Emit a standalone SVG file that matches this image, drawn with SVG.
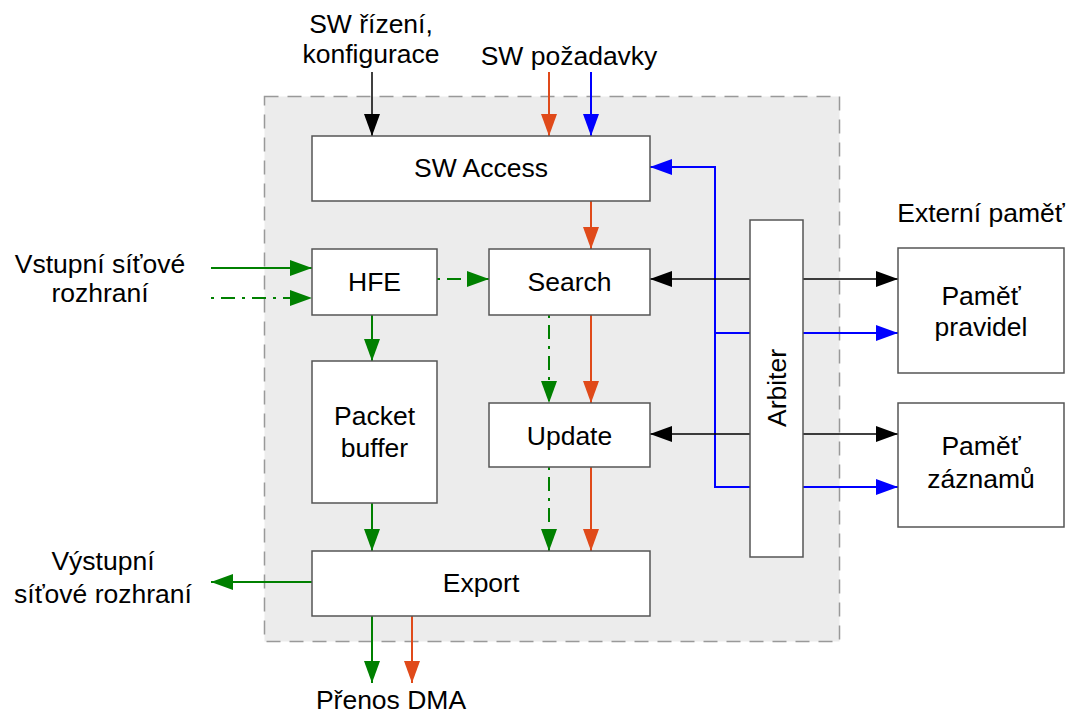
<svg xmlns="http://www.w3.org/2000/svg" width="1074" height="716" viewBox="0 0 1074 716">
<style>
text{font-family:"Liberation Sans",Arial,sans-serif;font-size:26.5px;fill:#000;text-anchor:middle}
.box{fill:#fff;stroke:#555;stroke-width:1.5}
.k{stroke:#000;stroke-width:1.5;fill:none}
.g{stroke:#008000;stroke-width:2;fill:none}
.o{stroke:#e04a1a;stroke-width:2;fill:none}
.b{stroke:#0000ff;stroke-width:2;fill:none}
.dd{stroke-dasharray:3 7 14 7}
</style>
<defs>
<marker id="ak" markerUnits="userSpaceOnUse" markerWidth="22" markerHeight="16" refX="22" refY="8" orient="auto-start-reverse"><path d="M0,0 L22,8 L0,16 z" fill="#000"/></marker>
<marker id="ag" markerUnits="userSpaceOnUse" markerWidth="22" markerHeight="16" refX="22" refY="8" orient="auto"><path d="M0,0 L22,8 L0,16 z" fill="#008000"/></marker>
<marker id="ao" markerUnits="userSpaceOnUse" markerWidth="22" markerHeight="16" refX="22" refY="8" orient="auto"><path d="M0,0 L22,8 L0,16 z" fill="#e04a1a"/></marker>
<marker id="ab" markerUnits="userSpaceOnUse" markerWidth="22" markerHeight="16" refX="22" refY="8" orient="auto"><path d="M0,0 L22,8 L0,16 z" fill="#0000ff"/></marker>
</defs>
<rect x="0" y="0" width="1074" height="716" fill="#fff"/>
<rect id="fpga" x="264.5" y="96.5" width="575" height="545" fill="#ececec" stroke="#999" stroke-width="1.5" stroke-dasharray="14 9"/>

<g id="labels">
<text x="371" y="33">SW řízení,</text>
<text x="371" y="63">konfigurace</text>
<text x="569" y="65">SW požadavky</text>
<text x="100" y="273">Vstupní síťové</text>
<text x="100" y="302">rozhraní</text>
<text x="103" y="570">Výstupní</text>
<text x="103" y="603">síťové rozhraní</text>
<text x="391" y="709">Přenos DMA</text>
<text x="981" y="222">Externí paměť</text>
</g>

<g id="connectors">
<line class="k" x1="372" y1="72" x2="372" y2="136" marker-end="url(#ak)"/>
<line class="o" x1="549" y1="72" x2="549" y2="136" marker-end="url(#ao)"/>
<line class="b" x1="591" y1="72" x2="591" y2="136" marker-end="url(#ab)"/>
<line class="o" x1="591" y1="201" x2="591" y2="249" marker-end="url(#ao)"/>
<line class="g" x1="211" y1="268" x2="312" y2="268" marker-end="url(#ag)"/>
<line class="g dd" x1="211" y1="298" x2="312" y2="298" marker-end="url(#ag)"/>
<line class="g dd" x1="437" y1="279" x2="489" y2="279" marker-end="url(#ag)"/>
<line class="g" x1="372" y1="315" x2="372" y2="361" marker-end="url(#ag)"/>
<line class="g dd" x1="549" y1="315" x2="549" y2="403" marker-end="url(#ag)"/>
<line class="o" x1="591" y1="315" x2="591" y2="403" marker-end="url(#ao)"/>
<line class="g dd" x1="549" y1="467" x2="549" y2="551" marker-end="url(#ag)"/>
<line class="o" x1="591" y1="467" x2="591" y2="551" marker-end="url(#ao)"/>
<line class="g" x1="372" y1="503" x2="372" y2="551" marker-end="url(#ag)"/>
<line class="g" x1="312" y1="582" x2="211" y2="582" marker-end="url(#ag)"/>
<line class="g" x1="372" y1="616" x2="372" y2="683" marker-end="url(#ag)"/>
<line class="o" x1="412" y1="616" x2="412" y2="683" marker-end="url(#ao)"/>
<polyline class="b" points="750,487 715,487 715,167 650,167" marker-end="url(#ab)"/>
<line class="b" x1="715" y1="333" x2="750" y2="333"/>
<line class="b" x1="803" y1="333" x2="898" y2="333" marker-end="url(#ab)"/>
<line class="b" x1="803" y1="487" x2="898" y2="487" marker-end="url(#ab)"/>
<line class="k" x1="750" y1="279" x2="650" y2="279" marker-end="url(#ak)"/>
<line class="k" x1="803" y1="279" x2="898" y2="279" marker-end="url(#ak)"/>
<line class="k" x1="750" y1="434" x2="650" y2="434" marker-end="url(#ak)"/>
<line class="k" x1="803" y1="434" x2="898" y2="434" marker-end="url(#ak)"/>
</g>

<g id="sw-access"><rect class="box" x="312" y="136" width="338" height="65"/><text x="481" y="177">SW Access</text></g>
<g id="hfe"><rect class="box" x="312" y="249" width="125" height="66"/><text x="374.5" y="291">HFE</text></g>
<g id="search"><rect class="box" x="489" y="249" width="161" height="66"/><text x="569.5" y="291">Search</text></g>
<g id="packet-buffer"><rect class="box" x="312" y="361" width="125" height="142"/><text x="374.5" y="425">Packet</text><text x="374.5" y="457">buffer</text></g>
<g id="update"><rect class="box" x="489" y="403" width="161" height="64"/><text x="569.5" y="445">Update</text></g>
<g id="export"><rect class="box" x="312" y="551" width="338" height="65"/><text x="481" y="592">Export</text></g>
<g id="arbiter"><rect class="box" x="750" y="220" width="53" height="337"/><text transform="translate(786,388) rotate(-90)" x="0" y="0">Arbiter</text></g>
<g id="pamet-pravidel"><rect class="box" x="898" y="248" width="166" height="125"/><text x="981" y="305">Paměť</text><text x="981" y="336">pravidel</text></g>
<g id="pamet-zaznamu"><rect class="box" x="898" y="403" width="166" height="124"/><text x="981" y="455">Paměť</text><text x="981" y="488">záznamů</text></g>
</svg>
